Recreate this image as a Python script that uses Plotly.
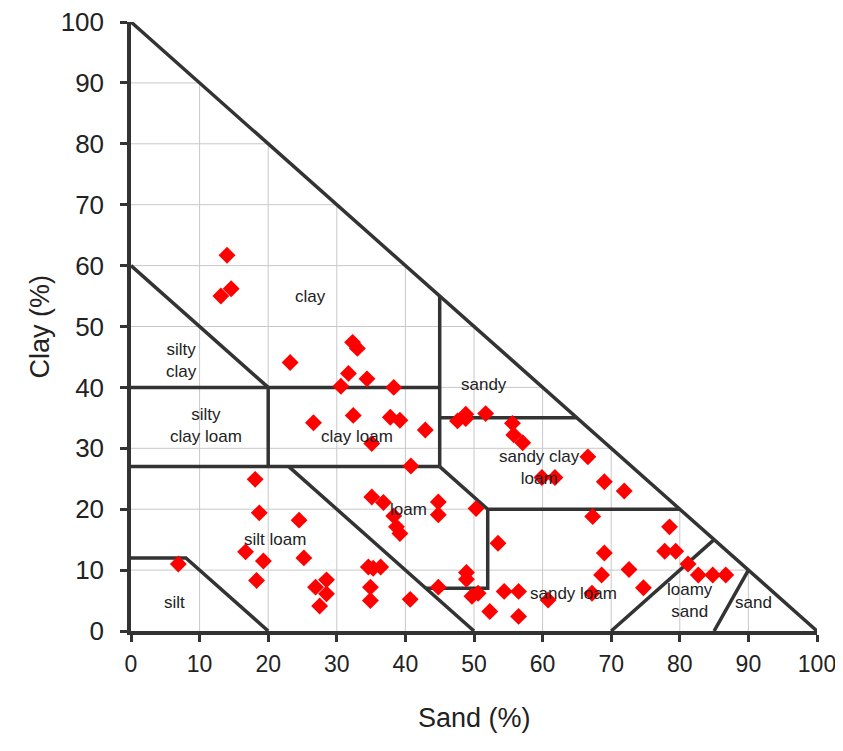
import plotly.graph_objects as go

# ---------------- data ----------------
sand = [14.0, 13.1, 14.6, 23.2, 32.3, 33.0, 31.7, 34.4, 30.6, 38.3,
        26.6, 32.4, 37.8, 39.2, 42.9, 35.1, 47.6, 48.8, 48.8, 51.7,
        55.6, 55.8, 57.1, 66.6, 59.9, 61.8, 69.0, 71.9, 40.8, 18.1,
        18.7, 24.5, 16.7, 19.3, 25.2, 6.9, 18.3, 26.9, 28.5, 28.5,
        27.5, 35.1, 36.8, 38.3, 38.7, 39.2, 44.8, 44.8, 34.6, 35.3,
        36.4, 34.9, 34.9, 40.7, 44.8, 50.3, 67.3, 53.5, 78.5, 77.8,
        79.4, 69.0, 72.6, 68.6, 74.7, 48.9, 48.9, 49.7, 50.6, 54.4,
        56.5, 60.8, 67.2, 52.3, 56.5, 81.2, 82.7, 84.8, 86.7]
clay = [61.7, 55.0, 56.2, 44.1, 47.4, 46.4, 42.3, 41.4, 40.2, 40.0,
        34.2, 35.4, 35.1, 34.6, 33.0, 30.8, 34.5, 35.6, 34.9, 35.7,
        34.1, 32.2, 30.9, 28.6, 25.2, 25.2, 24.5, 23.0, 27.1, 24.9,
        19.4, 18.2, 13.0, 11.5, 12.0, 11.0, 8.3, 7.2, 8.4, 6.1,
        4.1, 22.0, 21.1, 18.9, 17.1, 16.0, 21.2, 19.1, 10.5, 10.3,
        10.5, 7.2, 5.0, 5.2, 7.2, 20.1, 18.8, 14.4, 17.1, 13.1,
        13.1, 12.8, 10.1, 9.2, 7.1, 9.6, 8.5, 5.7, 6.2, 6.5,
        6.5, 5.1, 6.2, 3.2, 2.4, 11.0, 9.2, 9.2, 9.2]

tick_values = [0, 10, 20, 30, 40, 50, 60, 70, 80, 90, 100]
tick_labels = ["0", "10", "20", "30", "40", "50", "60", "70", "80", "90", "100"]

# USDA texture class boundaries, as (sand, clay) polylines
boundary_lines = [
    [(0, 100), (100, 0)],
    [(0, 60), (20, 40)],
    [(0, 40), (45, 40)],
    [(45, 27), (45, 55)],
    [(20, 27), (20, 40)],
    [(0, 27), (45, 27)],
    [(45, 35), (65, 35)],
    [(45, 27), (52, 20), (80, 20)],
    [(52, 20), (52, 7), (43, 7)],
    [(23, 27), (50, 0)],
    [(0, 12), (8, 12), (20, 0)],
    [(70, 0), (85, 15)],
    [(85, 0), (90, 10)],
]

region_labels = ["clay", "silty<br>clay", "silty<br>clay loam", "clay loam", "sandy",
                 "sandy clay<br>loam", "loam", "silt loam", "silt", "sandy loam",
                 "loamy<br>sand", "sand"]
label_sand = [26.2, 7.3, 11.0, 33.0, 51.5, 59.5, 40.5, 21.0, 6.3, 64.5, 81.5, 90.7]
label_clay = [55.0, 44.5, 33.8, 32.0, 40.4, 26.8, 20.0, 15.0, 4.6, 6.2, 5.0, 4.6]

# ---------------- figure ----------------
fig = go.Figure()

# gridlines clipped to the triangle
gx, gy = [], []
for v in tick_values[1:-1]:
    gx += [v, v, None, 0, 100 - v, None]
    gy += [0, 100 - v, None, v, v, None]
fig.add_trace(go.Scatter(x=gx, y=gy, mode="lines",
                         line=dict(color="#c8c8c8", width=1),
                         hoverinfo="skip", showlegend=False))

bx, by = [], []
for line in boundary_lines:
    for s, c in line:
        bx.append(s)
        by.append(c)
    bx.append(None)
    by.append(None)
fig.add_trace(go.Scatter(x=bx, y=by, mode="lines",
                         line=dict(color="#333333", width=3.5),
                         hoverinfo="skip", showlegend=False))

fig.add_trace(go.Scatter(x=sand, y=clay, mode="markers",
                         marker=dict(symbol="diamond", size=13, color="#ff0000",
                                     line=dict(width=0)),
                         showlegend=False, cliponaxis=False))

for t, s, c in zip(region_labels, label_sand, label_clay):
    fig.add_annotation(x=s, y=c, text=t, showarrow=False,
                       font=dict(family="Liberation Sans, Arial", size=17, color="#222222"))

axis_common = dict(range=[0, 100], tickmode="array", tickvals=tick_values,
                   ticktext=tick_labels, showgrid=False, zeroline=False,
                   showline=True, linecolor="#333333", linewidth=3.5,
                   ticks="outside", ticklen=7, tickwidth=3, tickcolor="#333333",
                   fixedrange=True, automargin=False, ticklabeloverflow="allow")

fig.update_xaxes(**axis_common,
                 tickfont=dict(family="Liberation Sans Narrow, Arial Narrow, Liberation Sans",
                               size=23, color="#222222"),
                 ticklabelstandoff=3)
fig.update_yaxes(**axis_common,
                 tickfont=dict(family="Liberation Sans, Arial", size=26, color="#222222"),
                 ticklabelstandoff=11)

fig.add_annotation(text="Sand (%)", xref="paper", yref="paper", x=0.5, y=-0.143,
                   yanchor="middle", showarrow=False,
                   font=dict(family="Liberation Sans, Arial", size=27, color="#222222"))
fig.add_annotation(text="Clay (%)", xref="paper", yref="paper", x=-0.1327, y=0.5,
                   xanchor="center", yanchor="middle", textangle=-90, showarrow=False,
                   font=dict(family="Liberation Sans, Arial", size=27, color="#222222"))

fig.update_layout(width=827, height=735,
                  margin=dict(l=123, r=18, t=14, b=112, autoexpand=False),
                  plot_bgcolor="white", paper_bgcolor="white",
                  showlegend=False)

fig.write_html("out.html")
